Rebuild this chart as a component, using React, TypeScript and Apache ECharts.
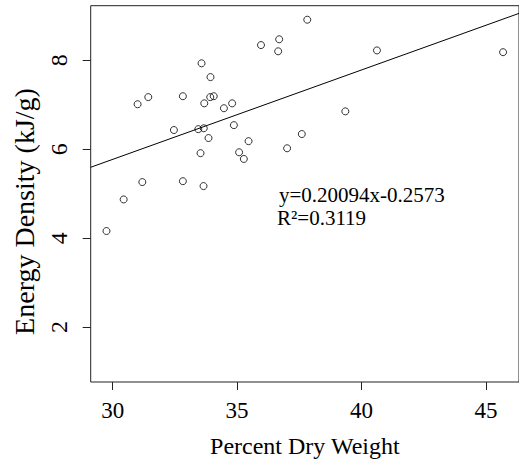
import React, { useEffect, useRef } from "react";
import * as echarts from "echarts";

const percentDryWeight = [
  35.96, 36.69, 36.65, 33.57, 33.93, 31.0, 31.43, 32.82, 33.68, 33.92, 34.06,
  34.47, 34.8, 32.46, 33.44, 33.66, 34.87, 33.85, 35.46, 37.6, 37.01, 33.53,
  35.08, 35.27, 31.19, 32.82, 33.65, 30.44, 29.75, 37.82, 40.62, 45.69, 39.35,
];
const energyDensity = [
  8.34, 8.47, 8.2, 7.93, 7.62, 7.01, 7.17, 7.19, 7.03, 7.17, 7.19, 6.92, 7.03,
  6.43, 6.45, 6.47, 6.54, 6.25, 6.18, 6.34, 6.02, 5.91, 5.93, 5.78, 5.26, 5.28,
  5.17, 4.87, 4.16, 8.91, 8.22, 8.18, 6.85,
];
const xTicks = [30, 35, 40, 45];
const yTicks = [2, 4, 6, 8];
const slope = 0.20094;
const intercept = -0.2573;
const r2Label = "0.3119";
const xMin = 29.115;
const xMax = 46.33;
const yMin = 0.766;
const yMax = 9.225;

const FONT = "Liberation Serif";

export default function App() {
  const ref = useRef<HTMLDivElement>(null);
  useEffect(() => {
    if (!ref.current) return;
    const chart = echarts.init(ref.current, null, { renderer: "svg" });
    const points = percentDryWeight.map((x, i) => [x, energyDensity[i]]);
    const fit = [
      [xMin, slope * xMin + intercept],
      [xMax, slope * xMax + intercept],
    ];
    chart.setOption({
      animation: false,
      backgroundColor: "#fff",
      textStyle: { fontFamily: FONT },
      grid: {
        left: 90.7,
        top: 5.7,
        right: -5.5,
        bottom: 80.3,
        show: true,
        borderColor: "#222",
        borderWidth: 1,
        backgroundColor: "transparent",
      },
      xAxis: {
        type: "value",
        min: xMin,
        max: xMax,
        axisLine: { show: false },
        splitLine: { show: false },
        axisTick: {
          show: true,
          customValues: xTicks,
          length: 8,
          inside: false,
          lineStyle: { color: "#222" },
        },
        axisLabel: {
          customValues: xTicks,
          fontFamily: FONT,
          fontSize: 23,
          color: "#000",
          margin: 17,
        },
        name: "Percent Dry Weight",
        nameLocation: "middle",
        nameGap: 52,
        nameTextStyle: { fontFamily: FONT, fontSize: 24, color: "#000" },
      },
      yAxis: {
        type: "value",
        min: yMin,
        max: yMax,
        axisLine: { show: false },
        splitLine: { show: false },
        axisTick: {
          show: true,
          customValues: yTicks,
          length: 8,
          inside: false,
          lineStyle: { color: "#222" },
        },
        axisLabel: {
          customValues: yTicks,
          rotate: 90,
          fontFamily: FONT,
          fontSize: 24,
          color: "#000",
          margin: 20,
        },
      },
      series: [
        {
          type: "line",
          data: fit,
          showSymbol: false,
          symbol: "none",
          lineStyle: { color: "#000", width: 1 },
          silent: true,
          z: 2,
        },
        {
          type: "scatter",
          data: points,
          symbol: "circle",
          symbolSize: 7,
          itemStyle: {
            color: "rgba(0,0,0,0)",
            borderColor: "#000",
            borderWidth: 1,
          },
          z: 3,
        },
      ],
      graphic: [
        {
          type: "text",
          x: 24,
          y: 211.5,
          rotation: Math.PI / 2,
          style: {
            text: "Energy Density (kJ/g)",
            fontFamily: FONT,
            fontSize: 28,
            fill: "#000",
            align: "center",
            verticalAlign: "middle",
          },
        },
        {
          type: "text",
          x: 279,
          y: 184,
          style: {
            text: `y=${slope}x${intercept}`,
            fontFamily: FONT,
            fontSize: 21,
            fill: "#000",
            align: "left",
            verticalAlign: "top",
          },
        },
        {
          type: "text",
          x: 277,
          y: 207,
          style: {
            text: `R²=${r2Label}`,
            fontFamily: FONT,
            fontSize: 21,
            fill: "#000",
            align: "left",
            verticalAlign: "top",
          },
        },
      ],
    });
    return () => chart.dispose();
  }, []);
  return (
    <div
      ref={ref}
      style={{ position: "fixed", left: 0, top: 0, width: 519, height: 463 }}
    />
  );
}
